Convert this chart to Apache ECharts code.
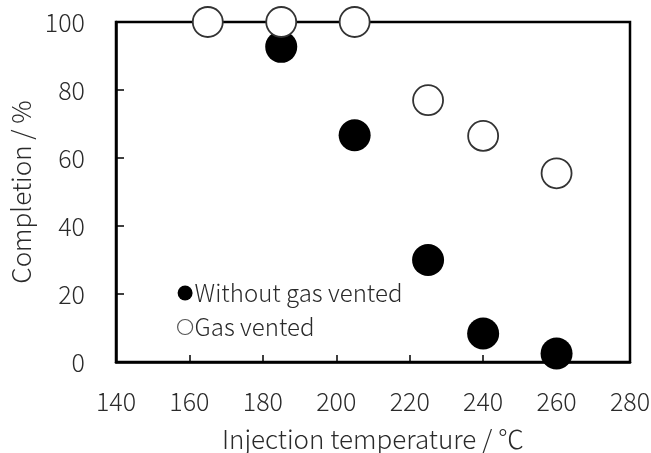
<!DOCTYPE html>
<html>
<head>
<meta charset="utf-8">
<script src="https://cdn.jsdelivr.net/npm/echarts@6/dist/echarts.min.js"></script>
<style>
  html, body { margin: 0; padding: 0; background: #fff; }
  #chart { width: 651px; height: 453px; }
</style>
</head>
<body>
<div id="chart"></div>
<script>
// Injection temperature (°C) and completion (%) for each venting condition
const ventedTemps = [165, 185, 205, 225, 240, 260];
const ventedCompletion = [100, 100, 100, 77, 66.5, 55.5];
const unventedTemps = [185, 205, 225, 240, 260];
const unventedCompletion = [92.7, 66.7, 30, 8.4, 2.5];

const xMin = 140, xMax = 280, xStep = 20;
const yMin = 0, yMax = 100, yStep = 20;

const FONT = '"Noto Sans CJK JP", "Noto Sans", sans-serif';
const TEXT_COLOR = '#2a2a2a';
const WEIGHT = 300;

const pairs = (xs, ys) => xs.map((x, i) => [x, ys[i]]);

const chart = echarts.init(document.getElementById('chart'), null, { renderer: 'canvas' });

chart.setOption({
  animation: false,
  backgroundColor: '#fff',
  textStyle: { fontFamily: FONT },
  grid: {
    left: 116, right: 21, top: 22, bottom: 91,
    containLabel: false,
    outerBoundsMode: 'none',
    show: true,
    borderColor: '#000',
    borderWidth: 2.5,
    backgroundColor: 'transparent'
  },
  legend: {
    orient: 'vertical',
    left: 172, top: 276,
    itemWidth: 15, itemHeight: 15,
    itemGap: 10,
    textStyle: { fontSize: 24, color: TEXT_COLOR, fontFamily: FONT, fontWeight: WEIGHT, padding: [0, 0, 0, -3] },
    data: [
      { name: 'Without gas vented', icon: 'circle', itemStyle: { color: '#000', opacity: 1 } },
      { name: 'Gas vented', icon: 'circle', itemStyle: { color: '#fff', borderColor: '#555', borderWidth: 1.2, opacity: 1 } }
    ]
  },
  xAxis: {
    type: 'value',
    min: xMin, max: xMax, interval: xStep,
    name: 'Injection temperature / ℃',
    nameLocation: 'middle',
    nameGap: 64,
    nameTextStyle: { fontSize: 26, color: TEXT_COLOR, fontFamily: FONT, fontWeight: WEIGHT },
    axisLine: { show: true, onZero: false, lineStyle: { color: '#000', width: 2.5 } },
    axisTick: { show: true, inside: true, length: 7, lineStyle: { color: '#000', width: 1.5 } },
    axisLabel: { fontSize: 25, color: TEXT_COLOR, margin: 27, fontFamily: FONT, fontWeight: WEIGHT },
    splitLine: { show: false }
  },
  yAxis: {
    type: 'value',
    min: yMin, max: yMax, interval: yStep,
    name: 'Completion / %',
    nameLocation: 'middle',
    nameGap: 78,
    nameTextStyle: { fontSize: 26, color: TEXT_COLOR, fontFamily: FONT, fontWeight: WEIGHT },
    axisLine: { show: true, lineStyle: { color: '#000', width: 2.5 } },
    axisTick: { show: true, inside: true, length: 8, lineStyle: { color: '#000', width: 1.5 } },
    axisLabel: { fontSize: 25, color: TEXT_COLOR, margin: 31, fontFamily: FONT, fontWeight: WEIGHT },
    splitLine: { show: false }
  },
  series: [
    {
      name: 'Without gas vented',
      type: 'scatter',
      clip: false,
      symbol: 'circle',
      symbolSize: 32,
      itemStyle: { color: '#000', opacity: 1 },
      data: pairs(unventedTemps, unventedCompletion)
    },
    {
      name: 'Gas vented',
      type: 'scatter',
      clip: false,
      symbol: 'circle',
      symbolSize: 30,
      itemStyle: { color: '#fff', borderColor: '#333', borderWidth: 1.8, opacity: 1 },
      data: pairs(ventedTemps, ventedCompletion)
    }
  ]
});
</script>
</body>
</html>
